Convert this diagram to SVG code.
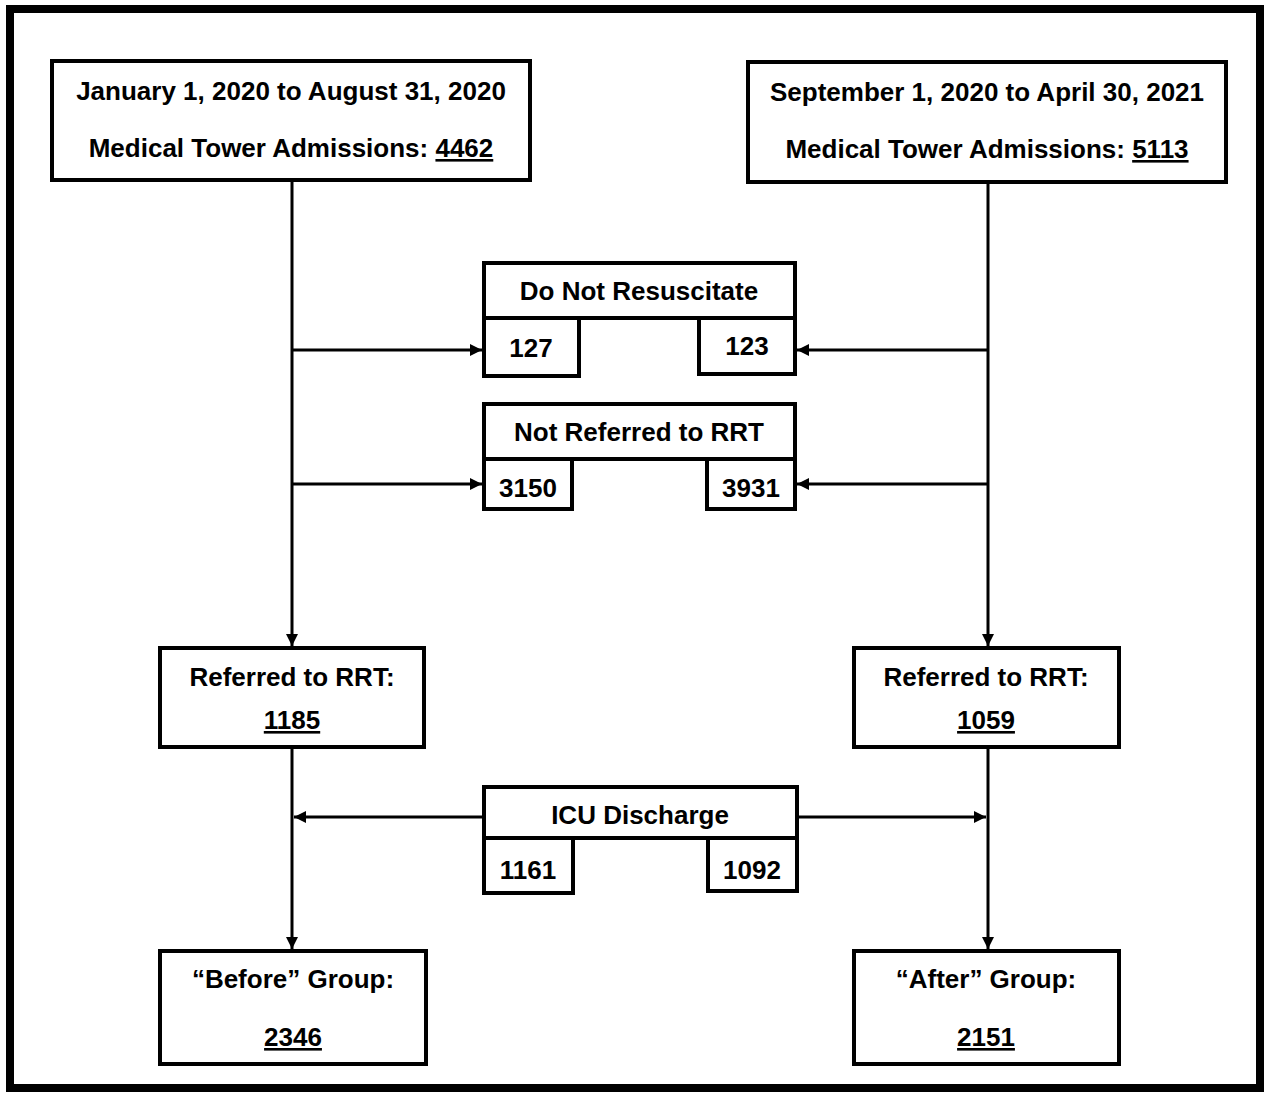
<svg xmlns="http://www.w3.org/2000/svg" width="1270" height="1101" viewBox="0 0 1270 1101">
<defs>
<style>
.b{fill:#fff;stroke:#000;stroke-width:4}
.t{font-family:"Liberation Sans",Arial,sans-serif;font-weight:bold;font-size:26px;fill:#000;text-anchor:middle}
.u{text-decoration:underline}
.c{stroke:#000;stroke-width:3;fill:none}
</style>
<marker id="ah" viewBox="0 0 12 12" refX="12" refY="6" markerWidth="12" markerHeight="12" markerUnits="userSpaceOnUse" orient="auto">
<path d="M0,0 L12,6 L0,12 z" fill="#000"/>
</marker>
</defs>
<rect x="0" y="0" width="1270" height="1101" fill="#fff"/>
<rect x="10" y="9" width="1250" height="1079" fill="none" stroke="#000" stroke-width="8"/>
<g id="connectors">
<line class="c" x1="292" y1="180" x2="292" y2="646" marker-end="url(#ah)"/>
<line class="c" x1="988" y1="182" x2="988" y2="646" marker-end="url(#ah)"/>
<line class="c" x1="292" y1="350" x2="482" y2="350" marker-end="url(#ah)"/>
<line class="c" x1="988" y1="350" x2="797" y2="350" marker-end="url(#ah)"/>
<line class="c" x1="292" y1="484" x2="482" y2="484" marker-end="url(#ah)"/>
<line class="c" x1="988" y1="484" x2="797" y2="484" marker-end="url(#ah)"/>
<line class="c" x1="292" y1="747" x2="292" y2="949" marker-end="url(#ah)"/>
<line class="c" x1="988" y1="747" x2="988" y2="949" marker-end="url(#ah)"/>
<line class="c" x1="484" y1="817" x2="294" y2="817" marker-end="url(#ah)"/>
<line class="c" x1="797" y1="817" x2="986" y2="817" marker-end="url(#ah)"/>
</g>
<g id="start-left">
<rect class="b" x="52" y="61" width="478" height="119"/>
<text class="t" x="291" y="100">January 1, 2020 to August 31, 2020</text>
<text class="t" x="291" y="157">Medical Tower Admissions: <tspan class="u">4462</tspan></text>
</g>
<g id="start-right">
<rect class="b" x="748" y="62" width="478" height="120"/>
<text class="t" x="987" y="101">September 1, 2020 to April 30, 2021</text>
<text class="t" x="987" y="158">Medical Tower Admissions: <tspan class="u">5113</tspan></text>
</g>
<g id="dnr">
<rect class="b" x="484" y="263" width="311" height="55"/>
<text class="t" x="639" y="300">Do Not Resuscitate</text>
</g>
<g id="dnr-left">
<rect class="b" x="484" y="318" width="95" height="58"/>
<text class="t" x="531" y="357">127</text>
</g>
<g id="dnr-right">
<rect class="b" x="699" y="318" width="96" height="56"/>
<text class="t" x="747" y="355">123</text>
</g>
<g id="nrr">
<rect class="b" x="484" y="404" width="311" height="55"/>
<text class="t" x="639" y="441">Not Referred to RRT</text>
</g>
<g id="nrr-left">
<rect class="b" x="484" y="459" width="88" height="50"/>
<text class="t" x="528" y="497">3150</text>
</g>
<g id="nrr-right">
<rect class="b" x="707" y="459" width="88" height="50"/>
<text class="t" x="751" y="497">3931</text>
</g>
<g id="rrt-left">
<rect class="b" x="160" y="648" width="264" height="99"/>
<text class="t" x="292" y="686">Referred to RRT:</text>
<text class="t" x="292" y="729"><tspan class="u">1185</tspan></text>
</g>
<g id="rrt-right">
<rect class="b" x="854" y="648" width="265" height="99"/>
<text class="t" x="986" y="686">Referred to RRT:</text>
<text class="t" x="986" y="729"><tspan class="u">1059</tspan></text>
</g>
<g id="icu">
<rect class="b" x="484" y="787" width="313" height="51"/>
<text class="t" x="640" y="824">ICU Discharge</text>
</g>
<g id="icu-left">
<rect class="b" x="484" y="838" width="89" height="55"/>
<text class="t" x="528" y="879">1161</text>
</g>
<g id="icu-right">
<rect class="b" x="708" y="838" width="89" height="53"/>
<text class="t" x="752" y="879">1092</text>
</g>
<g id="before">
<rect class="b" x="160" y="951" width="266" height="113"/>
<text class="t" x="293" y="988">“Before” Group:</text>
<text class="t" x="293" y="1046"><tspan class="u">2346</tspan></text>
</g>
<g id="after">
<rect class="b" x="854" y="951" width="265" height="113"/>
<text class="t" x="986" y="988">“After” Group:</text>
<text class="t" x="986" y="1046"><tspan class="u">2151</tspan></text>
</g>
</svg>
